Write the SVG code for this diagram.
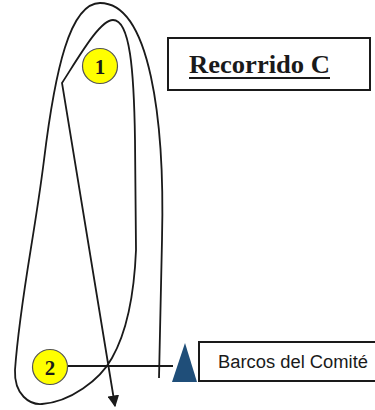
<svg xmlns="http://www.w3.org/2000/svg" width="375" height="410" viewBox="0 0 375 410">
<defs>
<style>
.route{fill:none;stroke:#1a1a1a;stroke-width:1.8}
.mark{fill:#ffff00;stroke:#555;stroke-width:1.2}
.num{font-family:"Liberation Serif",serif;font-weight:bold;font-size:21px;fill:#1a1a1a;text-anchor:middle}
.box{fill:#fff;stroke:#1a1a1a;stroke-width:2}
</style>
<marker id="arr" viewBox="0 0 10 10" refX="9" refY="5" markerWidth="6.5" markerHeight="6.5" orient="auto" markerUnits="strokeWidth">
<path d="M0 0 L10 5 L0 10 z" fill="#1a1a1a"/>
</marker>
</defs>
<rect width="375" height="410" fill="#fff"/>
<g id="connectors">
<path class="route" marker-end="url(#arr)" d="M159 378 L162 240 C165 120 150 3 100 3 C70 3 55 70 44 160 C34 240 20 300 15 370 C14 395 30 405 42 404 C70 402 100 380 112 358 C125 335 134 300 136 250 L135 140 C134 70 130 20 113 20 C100 20 80 55 62 83 L115 406"/>
<path class="route" d="M68 366 L173 366"/>
</g>
<g id="mark1">
<circle class="mark" cx="100" cy="66" r="17.5"/>
<text class="num" x="100" y="73.5">1</text>
</g>
<g id="mark2">
<circle class="mark" cx="50" cy="367" r="17.5"/>
<text class="num" x="50" y="374.5">2</text>
</g>
<g id="committee">
<polygon points="185,343 172,382 197,382" fill="#1f4e79"/>
<rect class="box" x="199" y="342" width="180" height="39"/>
<text x="218" y="368" font-family="'Liberation Sans',Arial,sans-serif" font-size="18" fill="#1a1a1a" textLength="150" lengthAdjust="spacingAndGlyphs">Barcos del Comité</text>
</g>
<g id="title">
<rect class="box" x="168" y="38" width="202" height="52"/>
<text x="189" y="73" font-family="'Liberation Serif','Times New Roman',serif" font-weight="bold" font-size="25" fill="#1a1a1a" textLength="141" lengthAdjust="spacingAndGlyphs">Recorrido C</text>
<rect x="189" y="77" width="141" height="2" fill="#1a1a1a"/>
</g>
</svg>
